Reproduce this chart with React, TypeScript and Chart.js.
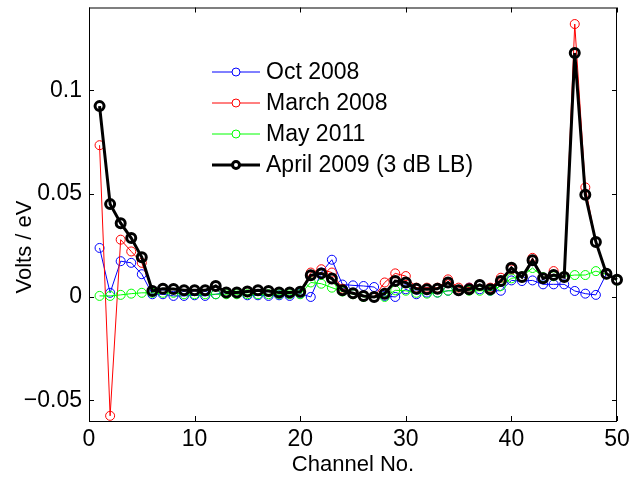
import React, { useEffect, useRef } from 'react';
import { Chart, registerables } from 'chart.js';

Chart.register(...registerables);

const channels = [1, 2, 3, 4, 5, 6, 7, 8, 9, 10, 11, 12, 13, 14, 15, 16, 17, 18, 19, 20, 21, 22, 23, 24, 25, 26, 27, 28, 29, 30, 31, 32, 33, 34, 35, 36, 37, 38, 39, 40, 41, 42, 43, 44, 45, 46, 47, 48, 49, 50];

const oct2008 = [0.0237, 0.002, 0.0173, 0.0165, 0.011, 0.0013, 0.0013, 0.0005, 0.0005, 0.0008, 0.0005, 0.0013, 0.0021, 0.0021, 0.0008, 0.0008, 0.0005, 0.0008, 0.0005, 0.0016, 0.0, 0.0118, 0.018, 0.006, 0.0056, 0.0053, 0.0048, 0.0005, 0.0, 0.0037, 0.0013, 0.0021, 0.0021, 0.003, 0.003, 0.0045, 0.0037, 0.003, 0.003, 0.008, 0.0077, 0.008, 0.0061, 0.0061, 0.0061, 0.0029, 0.0016, 0.001, 0.0112, 0.0083];

const march2008 = [0.0734, -0.0575, 0.0277, 0.022, 0.0165, 0.003, 0.0038, 0.0038, 0.003, 0.003, 0.003, 0.005, 0.002, 0.002, 0.0023, 0.003, 0.0026, 0.002, 0.002, 0.0025, 0.0118, 0.0134, 0.0118, 0.004, 0.0018, 0.0005, 0.0, 0.007, 0.0114, 0.0101, 0.0045, 0.0045, 0.0045, 0.0085, 0.0045, 0.0045, 0.006, 0.0045, 0.0093, 0.0133, 0.0096, 0.0189, 0.0093, 0.0125, 0.0096, 0.132, 0.053, 0.0266, 0.0112, 0.0083];

const may2011 = [0.0005, 0.0005, 0.001, 0.0016, 0.002, 0.002, 0.002, 0.002, 0.0013, 0.0013, 0.0013, 0.0013, 0.0013, 0.0013, 0.0013, 0.0013, 0.0013, 0.0013, 0.0013, 0.0013, 0.007, 0.0064, 0.0045, 0.0026, 0.0013, 0.0, 0.0, 0.0, 0.0032, 0.003, 0.002, 0.0016, 0.0021, 0.003, 0.003, 0.003, 0.003, 0.003, 0.0053, 0.009, 0.0099, 0.014, 0.0096, 0.01, 0.01, 0.0106, 0.0106, 0.0125, 0.0109, 0.008];

const april2009 = [0.0923, 0.0449, 0.0357, 0.0285, 0.0192, 0.0029, 0.004, 0.0038, 0.0032, 0.0032, 0.0032, 0.0053, 0.0021, 0.0021, 0.0026, 0.0032, 0.0029, 0.0021, 0.0021, 0.0025, 0.0105, 0.0114, 0.0089, 0.0032, 0.0018, 0.0005, 0.0, 0.0016, 0.0077, 0.007, 0.004, 0.0037, 0.004, 0.007, 0.0032, 0.0037, 0.0058, 0.0037, 0.0077, 0.0141, 0.0096, 0.0177, 0.009, 0.0106, 0.0096, 0.118, 0.0494, 0.0266, 0.0112, 0.0083];

const seriesNames = ['Oct 2008', 'March 2008', 'May 2011', 'April 2009 (3 dB LB)'];
const seriesColors = ['#0000ff', '#ff0000', '#00ff00', '#000000'];
const xTicks = [0, 10, 20, 30, 40, 50];
const yTicks = [-0.05, 0, 0.05, 0.1];
const yTickLabels = ['\u22120.05', '0', '0.05', '0.1'];
const xTitle = 'Channel No.';
const yTitle = 'Volts / eV';

const FONT = '"Liberation Sans", Arial, Helvetica, sans-serif';

const toPoints = (vals: number[]) => channels.map((c, i) => ({ x: c, y: vals[i] }));

const framePlugin = {
  id: 'frame',
  beforeDatasetsDraw(chart: any) {
    const { ctx, chartArea: a, scales } = chart;
    ctx.save();
    ctx.strokeStyle = '#000';
    ctx.lineWidth = 1;
    ctx.strokeRect(a.left + 0.5, a.top + 0.5, a.right - a.left - 1, a.bottom - a.top);
    const tl = 5;
    ctx.beginPath();
    xTicks.forEach((v) => {
      const x = Math.round(scales.x.getPixelForValue(v)) + 0.5;
      ctx.moveTo(x, a.bottom);
      ctx.lineTo(x, a.bottom - tl);
      ctx.moveTo(x, a.top);
      ctx.lineTo(x, a.top + tl);
    });
    yTicks.forEach((v) => {
      const y = Math.round(scales.y.getPixelForValue(v)) + 0.5;
      ctx.moveTo(a.left, y);
      ctx.lineTo(a.left + tl, y);
      ctx.moveTo(a.right, y);
      ctx.lineTo(a.right - tl, y);
    });
    ctx.stroke();
    ctx.restore();
  },
  afterDraw(chart: any) {
    const { ctx } = chart;
    ctx.save();
    // y-axis title
    ctx.translate(25, 247);
    ctx.rotate(-Math.PI / 2);
    ctx.fillStyle = '#000';
    ctx.font = `22px ${FONT}`;
    ctx.textAlign = 'center';
    ctx.textBaseline = 'middle';
    ctx.fillText(yTitle, 0, 0);
    ctx.restore();

    // legend
    ctx.save();
    ctx.font = `23px ${FONT}`;
    ctx.textBaseline = 'middle';
    ctx.textAlign = 'left';
    seriesNames.forEach((name, i) => {
      const y = 72 + i * 31;
      const thick = i === 3;
      ctx.strokeStyle = seriesColors[i];
      ctx.lineWidth = thick ? 3 : 1;
      ctx.beginPath();
      ctx.moveTo(212, y);
      ctx.lineTo(260, y);
      ctx.stroke();
      ctx.beginPath();
      ctx.fillStyle = '#fff';
      ctx.arc(236, y, thick ? 3.5 : 4, 0, Math.PI * 2);
      ctx.fill();
      ctx.stroke();
      ctx.fillStyle = '#000';
      ctx.fillText(name, 266, y + 1);
    });
    ctx.restore();
  },
};

export default function App() {
  const ref = useRef<HTMLCanvasElement | null>(null);

  useEffect(() => {
    if (!ref.current) return;
    const thin = (i: number, vals: number[], order: number) => ({
      label: seriesNames[i],
      data: toPoints(vals),
      borderColor: seriesColors[i],
      backgroundColor: 'rgba(0,0,0,0)',
      borderWidth: 1,
      pointRadius: 4.5,
      pointBorderWidth: 1,
      pointBorderColor: seriesColors[i],
      pointBackgroundColor: 'rgba(0,0,0,0)',
      tension: 0,
      clip: false as any,
      order,
    });
    const chart = new Chart(ref.current, {
      type: 'line',
      data: {
        datasets: [
          thin(0, oct2008, 4),
          thin(1, march2008, 3),
          thin(2, may2011, 2),
          {
            label: seriesNames[3],
            data: toPoints(april2009),
            borderColor: seriesColors[3],
            backgroundColor: 'rgba(0,0,0,0)',
            borderWidth: 3,
            pointRadius: 4.5,
            pointBorderWidth: 3,
            pointBorderColor: seriesColors[3],
            pointBackgroundColor: 'rgba(0,0,0,0)',
            tension: 0,
            clip: false as any,
            order: 1,
          },
        ],
      },
      options: {
        animation: false,
        responsive: false,
        devicePixelRatio: 1,
        layout: { padding: { top: 5, right: 14, left: 0, bottom: 0 } },
        plugins: { legend: { display: false }, tooltip: { enabled: false } },
        scales: {
          x: {
            type: 'linear',
            min: 0,
            max: 50,
            afterBuildTicks: (s: any) => {
              s.ticks = xTicks.map((v) => ({ value: v }));
            },
            afterFit: (s: any) => {
              s.height = 56;
              s.paddingLeft = 0;
              s.paddingRight = 0;
            },
            grid: { display: false, drawTicks: false },
            border: { display: false },
            ticks: {
              color: '#000',
              font: { family: FONT, size: 23 },
              padding: 5,
              maxRotation: 0,
              autoSkip: false,
            },
            title: {
              display: true,
              text: xTitle,
              color: '#000',
              font: { family: FONT, size: 22, lineHeight: 1 },
              padding: { top: 0, bottom: 1 },
            },
          },
          y: {
            type: 'linear',
            min: -0.06,
            max: 0.14,
            afterBuildTicks: (s: any) => {
              s.ticks = yTicks.map((v) => ({ value: v }));
            },
            afterFit: (s: any) => {
              s.width = 89;
              s.paddingTop = 0;
              s.paddingBottom = 0;
            },
            grid: { display: false, drawTicks: false },
            border: { display: false },
            ticks: {
              color: '#000',
              font: { family: FONT, size: 23 },
              padding: 7,
              autoSkip: false,
              callback: (v: any) => {
                const idx = yTicks.findIndex((t) => Math.abs(t - Number(v)) < 1e-9);
                return idx >= 0 ? yTickLabels[idx] : '';
              },
            },
          },
        },
      },
      plugins: [framePlugin],
    });
    return () => chart.destroy();
  }, []);

  return (
    <div style={{ position: 'absolute', left: 0, top: 0, width: 631, height: 477, background: '#fff' }}>
      <canvas ref={ref} width={631} height={477} style={{ display: 'block' }} />
    </div>
  );
}
